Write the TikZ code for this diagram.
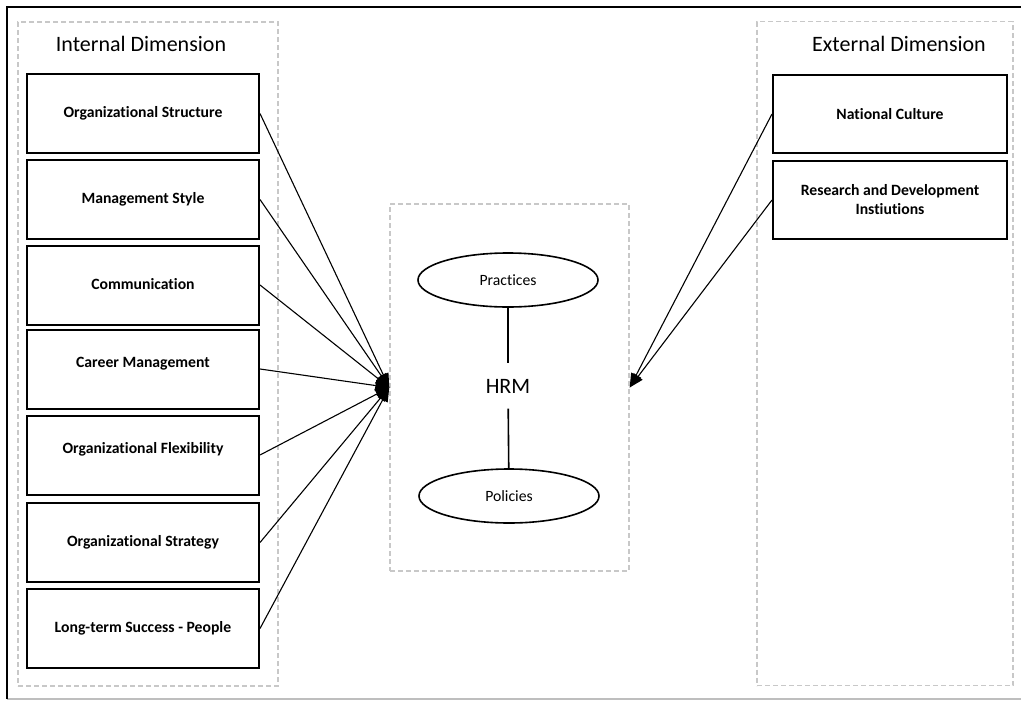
\documentclass[tikz,border=0pt]{standalone}
\usepackage{fontspec}
\setmainfont{Carlito}[Ligatures=NoCommon]
\usetikzlibrary{arrows.meta,shapes.geometric}
\definecolor{dashgray}{RGB}{200,200,200}
\definecolor{framegray}{RGB}{190,190,190}
\begin{document}
\begin{tikzpicture}[x=1pt,y=-1pt,
  dimbox/.style={draw=dashgray, line width=1.4pt, dash pattern=on 5pt off 3pt, inner sep=0pt},
  factor/.style={draw, line width=2pt, inner sep=0pt, align=center,
    font=\fontsize{15.7}{19}\selectfont\bfseries},
  lfactor/.style={factor, minimum width=232pt, minimum height=79pt, text height=11pt, text depth=3pt},
  ell/.style={ellipse, draw, line width=1.6pt, inner sep=0pt, minimum width=180pt, minimum height=54pt,
    font=\fontsize{15.7}{19}\selectfont},
  title/.style={font=\fontsize{22}{26}\selectfont, inner sep=0pt},
  link/.style={line width=1.1pt},
  arr/.style={link, -{Triangle[length=14pt,width=11pt]}}]
\useasboundingbox (0,0) rectangle (1021,702);
\fill[white] (0,0) rectangle (1021,702);
% outer frame
\coordinate (fbl) at (7,699);
\coordinate (ftl) at (7,7);
\coordinate (ftr) at (1021,7);
\coordinate (fbr) at (1021,699);
\draw[framegray, line width=1.2pt] (fbl) -- (fbr);
\draw[line width=2pt] (fbl) -- (ftl) -- (ftr);
% dimension boxes
\node[dimbox, minimum width=260pt, minimum height=664pt] (internal) at (148,354) {};
\node[dimbox, minimum width=239pt, minimum height=367pt] (core) at (509.5,387.5) {};
\node[dimbox, minimum width=256pt, minimum height=664pt] (external) at (885,353.5) {};
\node[title] (tint) at (141,44) {Internal Dimension};
\node[title] (text) at (899,44) {External Dimension};
% internal factors
\node[lfactor] (f1) at (143,113.5) {Organizational Structure};
\node[lfactor] (f2) at (143,199.5) {Management Style};
\node[lfactor] (f3) at (143,285) {Communication};
\node[lfactor, text depth=15pt] (f4) at (143,369) {Career Management};
\node[lfactor, text depth=15pt] (f5) at (143,455) {Organizational Flexibility};
\node[lfactor] (f6) at (143,542.5) {Organizational Strategy};
\node[lfactor] (f7) at (143,628.5) {Long-term Success - People};
% external factors
\node[factor, minimum width=234pt, minimum height=78pt] (e1) at (890,114) {National Culture};
\node[factor, minimum width=234pt, minimum height=78pt] (e2) at (890,200) {Research and Development\\Instiutions};
% HRM core
\node[ell] (prac) at (508,280) {Practices};
\node[ell] (pol) at (509,496) {Policies};
\node[font=\fontsize{22}{26}\selectfont, minimum height=45pt, inner sep=0pt] (hrm) at (508,386) {HRM};
\draw[line width=1.6pt] (prac) -- (hrm);
\draw[line width=1.6pt] (hrm) -- (pol);
% connectors
\foreach \f in {f1,f2,f3,f4,f5,f6,f7}{
  \draw[arr] (\f.east) -- (core.west);
}
\draw[arr] (e1.west) -- (core.east);
\draw[arr] (e2.west) -- (core.east);
\end{tikzpicture}
\end{document}
